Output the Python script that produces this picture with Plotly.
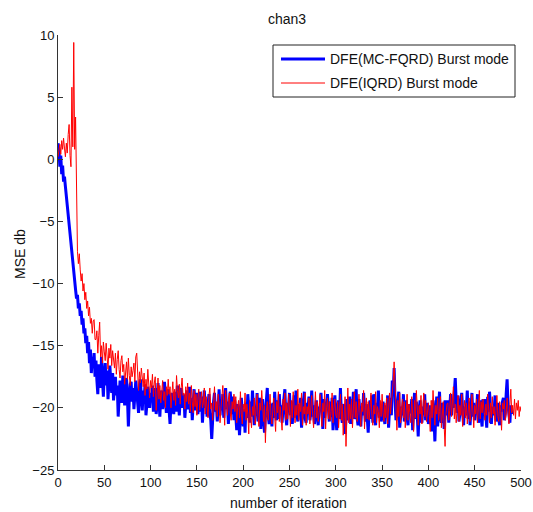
import plotly.graph_objects as go

# ---------------- data ----------------
title_text = "chan3"
x_label = "number of iteration"
y_label = "MSE db"
name_blue = "DFE(MC-FQRD) Burst mode"
name_red = "DFE(IQRD) Burst mode"

x_ticks = [0, 50, 100, 150, 200, 250, 300, 350, 400, 450, 500]
y_ticks = [-25, -20, -15, -10, -5, 0, 5, 10]

# iterations
iter_blue = list(range(0, 491))
iter_red = list(range(0, 501))

blue_early = [1.3, 0.8, -0.6, 0.3, -1.2, -0.5, -1.8, -1.4, -2.2, -3.0, -3.8,
              -4.6, -5.3, -5.7, -6.5, -7.4, -8.2, -8.8, -9.8, -10.5, -11.2,
              -10.9, -12.0, -11.6, -12.6, -12.2, -13.3, -12.8, -14.0, -13.6, -14.8,
              -14.2, -15.6, -14.7, -16.4, -15.3, -17.2, -15.9, -16.8, -15.6, -17.5]

blue_late = [
    -16.2, -17.8, -18.9, -16.5, -17.1, -18.4, -15.9, -17.7, -19.1, -17.3,
    -16.4, -18.2, -17.0, -19.3, -18.1, -16.6, -17.9, -18.8, -17.2, -19.4,
    -18.3, -17.5, -19.0, -18.2, -20.7, -19.1, -17.8, -18.6, -19.6, -17.4,
    -18.9, -19.8, -18.0, -17.6, -19.2, -21.5, -19.3, -18.1, -17.9, -19.5,
    -18.4, -20.1, -19.0, -17.8, -18.7, -19.9, -20.4, -18.5, -17.7, -19.3,
    -20.2, -18.6, -19.4, -18.1, -20.6, -19.7, -18.3, -19.0, -20.0, -18.8,
    -19.5, -18.2, -20.3, -19.1, -18.4, -20.5, -19.8, -18.0, -19.3, -20.7,
    -19.0, -18.6, -20.1, -19.4, -17.9, -19.7, -20.4, -19.2, -18.5, -20.2,
    -21.3, -19.6, -18.8, -19.9, -20.5, -18.7, -19.4, -20.3, -18.2, -19.8,
    -20.6, -19.1, -18.4, -20.0, -19.5, -18.9, -20.8, -19.3, -18.6, -20.1,
    -19.7, -18.3, -20.4, -19.2, -21.0, -19.6, -18.5, -20.2, -19.4, -18.8,
    -20.5, -19.9, -18.7, -20.3, -19.1, -21.2, -19.8, -18.6, -20.0, -19.4,
    -20.7, -19.2, -18.9, -20.4, -21.0, -22.5, -20.1, -19.5, -18.8, -20.3,
    -19.7, -21.1, -19.9, -18.5, -20.6, -19.3, -20.2, -18.9, -20.8, -19.6,
    -18.4, -20.1, -19.5, -21.3, -20.0, -18.7, -19.8, -20.5, -19.1, -21.0,
    -19.4, -20.6, -21.8, -19.7, -20.3, -22.2, -20.9, -19.2, -20.4, -21.5,
    -20.1, -22.0, -19.6, -20.8, -18.9, -20.4, -21.2, -19.5, -20.7, -18.6,
    -20.2, -21.4, -19.9, -20.6, -18.8, -21.1, -20.3, -19.2, -21.7, -20.0,
    -19.3, -20.9, -22.0, -20.5, -19.0, -18.4, -20.6, -21.3, -19.7, -20.2,
    -21.5, -19.6, -20.8, -18.7, -20.3, -21.0, -19.4, -20.9, -18.9, -20.5,
    -19.8, -21.2, -20.0, -19.3, -18.5, -20.7, -21.4, -19.6, -20.2, -18.8,
    -20.6, -19.5, -21.3, -20.1, -19.0, -20.8, -18.6, -20.4, -21.1, -19.7,
    -20.3, -19.2, -21.6, -20.5, -19.4, -18.7, -20.9, -21.2, -19.6, -20.1,
    -19.1, -21.0, -20.4, -18.6, -20.7, -19.8, -21.3, -20.0, -19.4, -20.6,
    -21.4, -19.9, -20.2, -18.8, -20.5, -21.7, -19.3, -20.8, -19.6, -20.1,
    -18.9, -20.4, -21.1, -19.5, -20.7, -19.2, -21.8, -20.3, -19.0, -20.6,
    -21.8, -20.2, -19.4, -20.9, -18.4, -20.5, -21.2, -19.7, -20.0, -22.1,
    -20.6, -19.3, -21.0, -20.4, -19.1, -21.3, -19.8, -20.5, -18.7, -20.9,
    -19.6, -18.5, -20.8, -21.4, -19.3, -20.2, -21.5, -19.9, -20.6, -18.8,
    -20.3, -21.1, -19.7, -20.6, -22.0, -20.1, -19.4, -20.9, -19.0, -21.2,
    -18.9, -20.5, -21.4, -19.6, -20.2, -18.6, -20.8, -19.9, -21.1, -20.3,
    -19.5, -20.7, -21.3, -19.8, -20.4, -19.0, -21.6, -20.1, -19.2, -20.6,
    -17.8, -18.9, -16.8, -19.5, -21.0, -20.3, -19.6, -18.7, -21.6, -20.2,
    -19.9, -20.6, -18.9, -21.1, -20.0, -19.4, -20.8, -21.4, -19.7, -20.3,
    -20.4, -19.3, -21.8, -20.1, -18.8, -20.9, -19.5, -20.6, -22.3, -20.2,
    -19.4, -20.8, -21.2, -19.9, -20.4, -18.9, -21.0, -20.5, -19.6, -21.3,
    -21.0, -19.8, -20.5, -21.9, -19.4, -20.7, -22.7, -20.3, -19.1, -21.5,
    -20.0, -18.7, -20.8, -21.2, -19.6, -20.3, -21.7, -19.4, -20.6, -19.9,
    -19.4, -21.2, -20.1, -18.9, -20.6, -19.3, -20.0, -18.4, -17.6, -19.5,
    -20.4, -19.0, -21.1, -20.5, -19.7, -18.8, -20.2, -21.4, -19.9, -20.6,
    -20.0, -18.6, -20.9, -19.5, -21.4, -20.2, -18.8, -20.7, -19.6, -21.0,
    -19.8, -20.5, -18.9, -21.2, -20.1, -19.4, -20.8, -21.5, -19.3, -20.4,
    -19.3, -20.5, -21.6, -19.1, -20.3, -18.7, -20.8, -21.3, -19.9, -20.6,
    -20.2, -19.0, -21.1, -20.4, -19.6, -20.9, -21.4, -19.8, -20.3, -19.5,
    -19.2, -21.0, -20.4, -18.9, -17.7, -19.8, -20.4, -21.2, -19.8, -20.5]

red_early = [0.2, 0.6, 1.2, 0.4, 1.5, 0.8, 1.7, 0.9, 0.2, 1.3, 0.5,
             2.0, 2.8, 0.3, -0.6, 5.8, 1.0, 9.4, 0.8, 3.4, -2.9,
             -7.4, -8.4, -7.6, -8.9, -9.8, -9.2, -10.6, -10.0, -11.3, -10.7,
             -12.0, -11.4, -12.6, -11.9, -13.2, -12.8, -14.0, -13.0, -12.9, -14.5]

red_late = [
    -14.5, -13.8, -15.6, -14.2, -13.1, -15.9, -15.0, -16.4, -14.7, -15.5,
    -16.2, -14.8, -15.7, -16.9, -15.2, -16.0, -14.9, -16.6, -15.4, -16.3,
    -16.8, -15.6, -17.3, -16.1, -15.4, -16.9, -17.6, -16.2, -15.8, -17.1,
    -16.5, -18.1, -17.0, -16.3, -17.7, -16.0, -17.4, -18.2, -16.7, -17.5,
    -17.0, -16.4, -17.9, -15.9, -15.6, -17.3, -18.6, -17.1, -18.0, -16.8,
    -17.6, -18.3, -17.2, -19.0, -17.7, -18.5, -16.9, -18.1, -19.2, -17.8,
    -18.4, -17.3, -19.1, -18.0, -17.5, -20.2, -18.6, -17.6, -19.3, -18.2,
    -19.6, -18.1, -17.8, -19.4, -18.7, -20.0, -18.3, -19.0, -17.7, -18.9,
    -18.3, -20.0, -18.8, -17.9, -19.4, -18.5, -19.8, -17.4, -18.6, -19.2,
    -18.1, -19.7, -18.4, -17.6, -19.0, -18.8, -20.1, -18.3, -19.5, -18.0,
    -19.7, -18.8, -20.3, -18.2, -19.5, -20.4, -18.6, -19.9, -18.9, -20.6,
    -19.3, -18.5, -20.2, -19.0, -18.7, -20.0, -19.6, -18.4, -20.5, -19.1,
    -19.8, -20.8, -19.0, -18.4, -20.1, -19.6, -21.0, -19.2, -18.3, -20.2,
    -19.5, -20.7, -18.9, -19.8, -21.2, -20.0, -19.1, -18.2, -19.6, -21.4,
    -18.6, -19.9, -20.6, -19.3, -18.8, -20.4, -21.0, -19.5, -20.1, -18.9,
    -20.3, -19.1, -21.2, -20.0, -19.4, -20.8, -18.7, -20.5, -21.3, -19.7,
    -20.3, -18.8, -21.0, -19.7, -20.5, -22.1, -19.4, -20.8, -21.6, -19.9,
    -20.6, -19.2, -21.3, -20.0, -18.9, -20.7, -21.5, -19.6, -20.2, -18.6,
    -20.4, -21.1, -19.8, -22.8, -20.3, -19.5, -21.0, -20.1, -18.9, -20.6,
    -21.3, -20.1, -19.2, -20.7, -21.9, -19.5, -20.4, -18.7, -21.1, -19.9,
    -20.6, -21.8, -19.3, -20.2, -18.8, -21.0, -19.6, -20.9, -18.9, -20.3,
    -21.5, -19.4, -20.8, -18.7, -20.1, -21.2, -19.8, -20.6, -18.5, -21.0,
    -19.6, -20.3, -18.8, -21.4, -19.9, -20.5, -18.8, -21.4, -19.9, -20.5,
    -19.2, -21.3, -20.0, -19.0, -20.6, -21.6, -20.2, -18.7, -20.8, -19.5,
    -21.1, -20.4, -18.9, -20.7, -21.5, -19.6, -20.3, -18.6, -21.7, -20.0,
    -19.2, -20.9, -19.5, -21.0, -20.3, -18.8, -21.2, -20.0, -19.3, -20.6,
    -20.8, -19.5, -21.6, -20.3, -18.9, -21.0, -19.7, -22.2, -20.4, -19.1,
    -23.1, -20.6, -18.4, -21.2, -19.7, -20.9, -19.3, -21.6, -20.2, -18.7,
    -20.8, -19.5, -21.1, -20.4, -18.9, -20.7, -21.5, -19.6, -20.3, -18.6,
    -21.7, -20.0, -19.2, -20.9, -19.5, -21.0, -20.1, -18.8, -20.6, -21.4,
    -19.8, -20.5, -18.7, -21.2, -19.9, -20.3, -21.6, -19.4, -20.7, -18.9,
    -20.4, -21.1, -19.6, -20.8, -19.2, -21.3, -20.0, -18.8, -20.5, -19.7,
    -18.6, -17.9, -16.3, -18.2, -20.6, -21.8, -19.4, -20.7, -18.8, -21.2,
    -20.0, -19.3, -20.8, -19.5, -21.6, -20.3, -18.9, -21.0, -19.7, -20.4,
    -21.2, -19.1, -20.6, -21.9, -19.4, -20.8, -18.6, -20.2, -21.4, -19.8,
    -20.5, -19.0, -21.3, -20.1, -18.8, -20.7, -19.4, -21.1, -20.3, -19.6,
    -20.6, -21.9, -19.4, -20.8, -18.6, -20.2, -21.4, -19.8, -20.5, -19.2,
    -21.0, -20.3, -19.1, -21.6, -20.2, -19.5, -21.4, -23.1, -20.5, -19.7,
    -19.6, -21.0, -20.2, -18.8, -20.7, -19.4, -18.3, -20.9, -19.7, -21.2,
    -20.3, -19.0, -21.1, -19.8, -20.6, -18.9, -21.5, -20.1, -19.4, -20.8,
    -19.6, -21.3, -20.0, -19.2, -21.1, -20.4, -18.9, -20.7, -21.6, -19.8,
    -20.5, -19.3, -21.2, -20.0, -18.6, -20.9, -19.5, -20.4, -19.3, -20.2,
    -21.0, -19.7, -20.6, -18.9, -20.3, -21.2, -19.6, -20.8, -19.1, -20.5,
    -19.9, -21.4, -20.2, -19.0, -20.7, -21.1, -19.5, -20.3, -21.8, -19.6,
    -20.1, -19.4, -21.0, -20.5, -19.2, -20.8, -21.3, -19.7, -18.5, -20.4,
    -19.8, -20.6, -19.3, -20.9, -19.6, -20.2, -19.4, -20.7, -19.9, -20.3]

# ---------------- figure ----------------
FONT = "Liberation Sans, Arial, sans-serif"
TXT = "#111111"
AX = "#333333"

W, H = 533, 512
ML, MR, MT, MB = 58, 12, 35, 42
PW, PH = W - ML - MR, H - MT - MB


def px(xw):
    # window pixel x -> paper x
    return (xw - ML) / PW


def py(yw):
    # window pixel y -> paper y
    return (H - MB - yw) / PH


fig = go.Figure()
fig.add_trace(go.Scatter(
    x=iter_blue, y=blue_early + blue_late,
    mode="lines", name=name_blue, showlegend=False,
    line=dict(color="#0000FF", width=3)))
fig.add_trace(go.Scatter(
    x=iter_red, y=red_early + red_late,
    mode="lines", name=name_red, showlegend=False,
    line=dict(color="#FF0000", width=1)))

axis_common = dict(
    showgrid=False, zeroline=False, showline=True, linecolor=AX,
    linewidth=1, ticks="inside", ticklen=5, tickcolor=AX, tickwidth=1,
    tickfont=dict(family=FONT, size=13, color=TXT),
    automargin=False, ticklabeloverflow="allow",
)

shapes = [
    # legend box
    dict(type="rect", xref="paper", yref="paper",
         x0=px(273), x1=px(515), y0=py(97), y1=py(45),
         line=dict(color="#222222", width=1), fillcolor="white", layer="above"),
    dict(type="line", xref="paper", yref="paper",
         x0=px(281), x1=px(325), y0=py(59), y1=py(59),
         line=dict(color="#0000FF", width=3), layer="above"),
    dict(type="line", xref="paper", yref="paper",
         x0=px(281), x1=px(325), y0=py(83), y1=py(83),
         line=dict(color="#FF0000", width=1), layer="above"),
]

annotations = [
    dict(text=title_text, xref="paper", yref="paper", x=px(287), y=py(19),
         xanchor="center", yanchor="middle", showarrow=False,
         font=dict(family=FONT, size=14, color=TXT)),
    dict(text=x_label, xref="paper", yref="paper", x=px(288), y=py(503),
         xanchor="center", yanchor="middle", showarrow=False,
         font=dict(family=FONT, size=14, color=TXT)),
    dict(text=y_label, xref="paper", yref="paper", x=px(20), y=py(254),
         xanchor="center", yanchor="middle", showarrow=False, textangle=-90,
         font=dict(family=FONT, size=14, color=TXT)),
    dict(text=name_blue, xref="paper", yref="paper", x=px(328), y=py(59),
         xanchor="left", yanchor="middle", showarrow=False,
         font=dict(family=FONT, size=14, color=TXT)),
    dict(text=name_red, xref="paper", yref="paper", x=px(328), y=py(83),
         xanchor="left", yanchor="middle", showarrow=False,
         font=dict(family=FONT, size=14, color=TXT)),
]

fig.update_layout(
    width=W, height=H,
    margin=dict(l=ML, r=MR, t=MT, b=MB, autoexpand=False),
    paper_bgcolor="white", plot_bgcolor="white",
    font=dict(family=FONT, size=13, color=TXT),
    xaxis=dict(range=[0, 500], tickvals=x_ticks, **axis_common),
    yaxis=dict(range=[-25, 10], tickvals=y_ticks, **axis_common),
    shapes=shapes, annotations=annotations,
    showlegend=False,
)

# remove the browser's default page margin so the figure fills the window
fig.write_html(
    "out.html",
    config={"displayModeBar": False},
    post_script="document.body.style.margin='0';"
                "document.documentElement.style.overflow='hidden';",
)
